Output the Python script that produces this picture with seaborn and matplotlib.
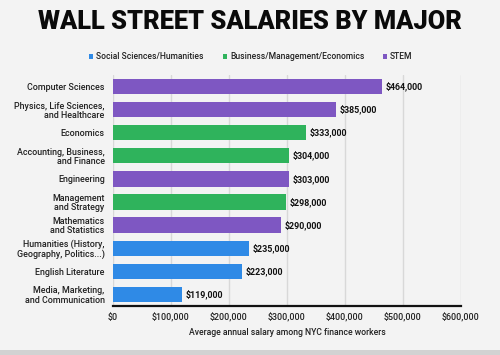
import matplotlib
matplotlib.use("Agg")
import matplotlib.pyplot as plt
import seaborn as sns
import pandas as pd
from matplotlib.patches import Rectangle

majors = ["Computer Sciences", "Physics, Life Sciences,\nand Healthcare", "Economics",
          "Accounting, Business,\nand Finance", "Engineering", "Management\nand Strategy",
          "Mathematics\nand Statistics", "Humanities (History,\nGeography, Politics...)",
          "English Literature", "Media, Marketing,\nand Communication"]
salaries = [464000, 385000, 333000, 304000, 303000, 298000, 290000, 235000, 223000, 119000]
groups = ["STEM", "STEM", "Business/Management/Economics", "Business/Management/Economics",
          "STEM", "Business/Management/Economics", "STEM", "Social Sciences/Humanities",
          "Social Sciences/Humanities", "Social Sciences/Humanities"]
group_order = ["Social Sciences/Humanities", "Business/Management/Economics", "STEM"]
colors = ["#2f8ae6", "#2fb35c", "#7e57c2"]
xticks = [0, 100000, 200000, 300000, 400000, 500000, 600000]
xtick_labels = ["$0", "$100,000", "$200,000", "$300,000", "$400,000", "$500,000", "$600,000"]

df = pd.DataFrame({"major": majors, "salary": salaries, "group": groups})

sns.set_theme(style="white")
plt.rcParams["font.family"] = ["Roboto", "DejaVu Sans"]
bg = "#f3f3f3"
fw = "medium"
fig = plt.figure(figsize=(5, 3.55), dpi=100, facecolor=bg)
ax = fig.add_axes([0.226, 0.138, 0.696, 0.651], facecolor=bg)

sns.barplot(data=df, y="major", x="salary", hue="group", hue_order=group_order,
            palette=colors, saturation=1, order=majors, dodge=False, width=0.66, ax=ax,
            legend=False, zorder=3, edgecolor="none")

ax.set_xlim(0, 600000)
ax.set_ylim(9.5, -0.5)
ax.set_xticks(xticks)
ax.set_xticklabels(xtick_labels, fontsize=7, fontweight=fw, color="#222222")
ax.tick_params(axis="y", length=0, pad=6, labelcolor="#222222", labelsize=6.4)
ax.tick_params(axis="x", length=0, pad=5)
for t in ax.get_yticklabels():
    t.set_fontweight(fw)
    t.set_multialignment("right")
    t.set_linespacing(1.05)
ax.grid(axis="x", color="#d8d8d8", linewidth=1, zorder=0)
ax.set_axisbelow(True)
for s in ["top", "right", "left"]:
    ax.spines[s].set_visible(False)
ax.spines["bottom"].set_color("#111111")
ax.spines["bottom"].set_linewidth(1.6)
ax.set_ylabel("")
ax.set_xlabel("Average annual salary among NYC finance workers", fontsize=7,
              fontweight=fw, color="#222222", labelpad=4)

vals = []
for i, v in enumerate(salaries):
    vals.append(ax.text(v + 6000, i, f"${v:,.0f}", va="center", ha="left", fontsize=7,
                        fontweight="bold", color="#111111"))

title = fig.text(0.5, 0.937, "WALL STREET SALARIES BY MAJOR", ha="center", va="center",
                 fontsize=18, fontweight="heavy", color="#0a0a0a")

# legend
leg_x = [96 / 500, 230 / 500, 390 / 500]
legs = []
for x, lab, c in zip(leg_x, group_order, colors):
    fig.patches.append(Rectangle((x - 0.014, 0.835), 0.008, 0.012, transform=fig.transFigure,
                                 facecolor=c, edgecolor="none"))
    legs.append(fig.text(x, 0.841, lab, ha="left", va="center", fontsize=7,
                         fontweight=fw, color="#222222"))

fig.patches.append(Rectangle((0, 0), 1, 0.015, transform=fig.transFigure,
                             facecolor="#d2d2d2", edgecolor="none"))

# fit text sizes to the reference pixel widths
fig.canvas.draw()
r = fig.canvas.get_renderer()

def scale_for(t, target):
    return target / t.get_window_extent(r).width

s = scale_for(title, 424)
title.set_fontsize(title.get_fontsize() * s)
s = scale_for(legs[0], 109)
for t in legs:
    t.set_fontsize(t.get_fontsize() * s)
s = scale_for(vals[0], 38)
for t in vals:
    t.set_fontsize(t.get_fontsize() * s)
s = scale_for(ax.get_xticklabels()[1], 37)
ax.tick_params(axis="x", labelsize=7 * s)
s = scale_for(ax.xaxis.label, 198)
ax.xaxis.label.set_fontsize(7 * s)

fig.savefig("out.png", dpi=100, facecolor=bg)
